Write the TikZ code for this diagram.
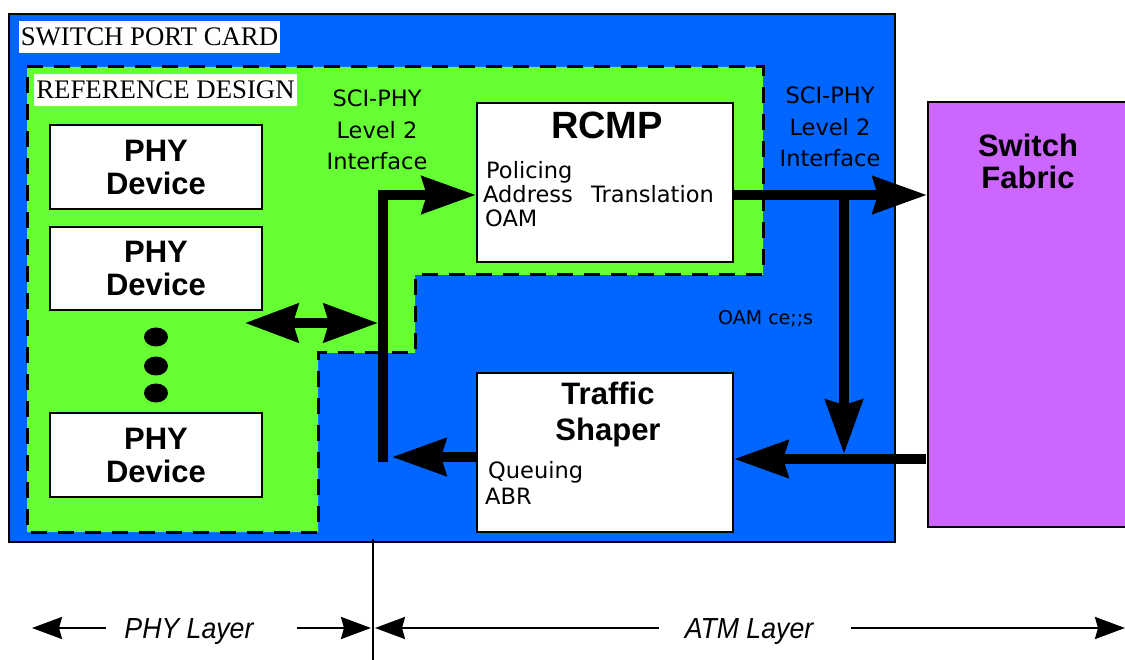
\documentclass[tikz,border=0pt]{standalone}
\usepackage{fontspec}
\setmainfont{Liberation Serif}
\newfontfamily\hv{Liberation Sans}
\newfontfamily\gv{DejaVu Sans}
\newfontfamily\hvi{Liberation Sans Italic}[FakeStretch=0.92]
\usetikzlibrary{arrows.meta}
\definecolor{blueC}{HTML}{0066FF}
\definecolor{greenC}{HTML}{66FF33}
\definecolor{purpC}{HTML}{CC66FF}
\begin{document}
\begin{tikzpicture}[x=1pt,y=-1pt,
  box/.style={draw=black,line width=2.2pt,fill=white,inner sep=0pt},
  boldtxt/.style={font=\hv\bfseries\fontsize{31}{33}\selectfont,align=center},
  gtxt/.style={font=\gv\fontsize{22.5}{31.5}\selectfont},
  tag/.style={fill=white,inner xsep=2pt,inner ysep=6.5pt,font=\fontsize{26.8}{28}\selectfont},
  bigarrow/.style={line width=9.5pt,-{Stealth[length=54pt,width=37pt,inset=5pt]}},
  thinarrow/.style={line width=2.5pt,-{Stealth[length=30pt,width=22pt,inset=3pt]}},
  laytxt/.style={font=\hvi\fontsize{29}{31}\selectfont,anchor=base}]
\useasboundingbox (0,0) rectangle (1125,660);
% switch port card
\draw[fill=blueC,line width=2.5pt] (9,14) rectangle (895,542);
\node[tag] (spc) at (149.5,37) {SWITCH PORT CARD};
% reference design region
\draw[fill=greenC,line width=3pt,dash pattern=on 16pt off 11pt]
  (27,67) -- (763,67) -- (763,275) -- (415,275) -- (415,353) -- (318,353)
  -- (318,532) -- (27,532) -- cycle;
\node[tag] (ref) at (165.5,90) {REFERENCE DESIGN};
% interface labels
\node[gtxt,align=center] (ifl) at (377,130) {SCI-PHY\\Level 2\\Interface};
\node[gtxt,align=center] (ifr) at (830,127) {SCI-PHY\\Level 2\\Interface};
% PHY devices
\node[box,boldtxt,minimum width=212pt,minimum height=84pt] (phy1) at (156,167) {PHY\\Device};
\node[box,boldtxt,minimum width=212pt,minimum height=83pt] (phy2) at (156,268.5) {PHY\\Device};
\node[box,boldtxt,minimum width=212pt,minimum height=84pt] (phy3) at (156,455) {PHY\\Device};
\fill (156,337) ellipse [x radius=12pt,y radius=9.5pt];
\fill (156,366) ellipse [x radius=12pt,y radius=9.5pt];
\fill (156,393) ellipse [x radius=12pt,y radius=9.5pt];
% RCMP
\node[box,minimum width=256pt,minimum height=159pt] (rcmp) at (605,182.5) {};
\node[font=\hv\bfseries\fontsize{38}{40}\selectfont,anchor=base] (rcmpt) at (607,139) {RCMP};
\node[gtxt,anchor=base west,inner sep=0pt] (pol) at (486,179) {Policing};
\node[gtxt,anchor=base west,inner sep=0pt] (adr) at (483,203) {Address};
\node[gtxt,anchor=base east,inner sep=0pt] (trn) at (714,203) {Translation};
\node[gtxt,anchor=base west,inner sep=0pt] (oam) at (485,227) {OAM};
% Traffic shaper
\node[box,minimum width=256pt,minimum height=159pt] (shaper) at (605,452.5) {};
\node[boldtxt,anchor=base] (tr1) at (608,405) {Traffic};
\node[boldtxt,anchor=base] (tr2) at (608,440) {Shaper};
\node[gtxt,anchor=base west,inner sep=0pt] (que) at (488,478) {Queuing};
\node[gtxt,anchor=base west,inner sep=0pt] (abr) at (485,504) {ABR};
% Switch fabric
\node[draw=black,line width=2.2pt,fill=purpC,minimum width=199pt,minimum height=425pt,inner sep=0pt] (fabric) at (1027.5,314.5) {};
\node[boldtxt,anchor=base] (sw1) at (1028,157) {Switch};
\node[boldtxt,anchor=base] (sw2) at (1028,189) {Fabric};
% OAM cells label
\node[font=\gv\fontsize{19}{21}\selectfont,anchor=base west,inner sep=0pt] (oamc) at (718,325) {OAM ce;;s};
% connectors
\coordinate (busT) at (383,190);
\coordinate (busB) at (383,462);
\coordinate (busA) at (383,195);
\coordinate (busP) at (378,323);
\coordinate (phyR) at (245,323);
\coordinate (busS) at (392,457);
\coordinate (brT) at (844,195);
\coordinate (brB) at (844,454);
\coordinate (fbL) at (926,459);
\draw[line width=10pt] (busT) -- (busB);
\draw[bigarrow] ([xshift=-1pt]busA) -- (busA -| rcmp.west);
\draw[line width=9.5pt,{Stealth[length=53pt,width=38pt,inset=5pt]}-{Stealth[length=54pt,width=38pt,inset=5pt]}] (phyR) -- (busP);
\draw[bigarrow] (shaper.west |- busS) -- (busS);
\draw[bigarrow] (rcmp.east |- busA) -- (fabric.west |- busA);
\draw[bigarrow] (brT) -- (brB);
\draw[bigarrow] (fbL) -- (shaper.east |- fbL);
% layer axis
\coordinate (divT) at (373,539);
\coordinate (divB) at (373,662);
\draw[line width=2pt] (divT) -- (divB);
\coordinate (l1s) at (106,628); \coordinate (l1e) at (32,628);
\coordinate (l2s) at (297,628); \coordinate (l2e) at (371,628);
\coordinate (a1s) at (659,628); \coordinate (a1e) at (375,628);
\coordinate (a2s) at (851,628); \coordinate (a2e) at (1125,628);
\draw[thinarrow] (l1s) -- (l1e);
\draw[thinarrow] (l2s) -- (l2e);
\draw[thinarrow] (a1s) -- (a1e);
\draw[thinarrow] (a2s) -- (a2e);
\node[laytxt] (phyl) at (189,638) {PHY Layer};
\node[laytxt] (atml) at (749,638) {ATM Layer};
\end{tikzpicture}
\end{document}
